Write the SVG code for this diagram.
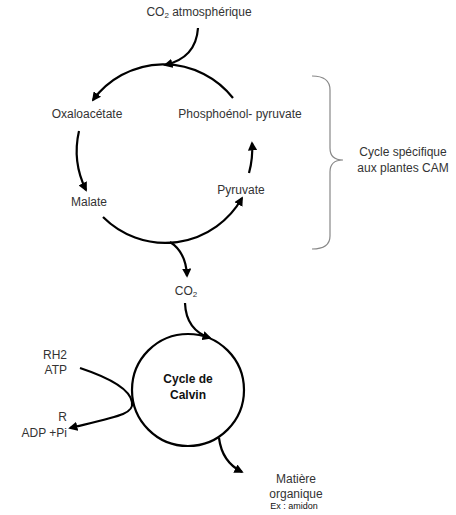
<svg xmlns="http://www.w3.org/2000/svg" width="456" height="515" viewBox="0 0 456 515">
<style>
text{font-family:"Liberation Sans",Arial,sans-serif;font-size:12px;fill:#333}
.b{font-weight:bold;fill:#111}
.s{font-size:9px;fill:#111}
.c{fill:none;stroke:#000;stroke-width:2.2}
</style>
<defs>
<marker id="ah" viewBox="0 0 10 10" refX="8" refY="5" markerWidth="4.2" markerHeight="4.2" orient="auto" markerUnits="strokeWidth">
<path d="M0,0 L10,5 L0,10 Z" fill="#000"/>
</marker>
</defs>
<rect width="456" height="515" fill="#fff"/>
<g id="connectors">
<path class="c" d="M198 28 Q196 58 165 65" marker-end="url(#ah)"/>
<path class="c" d="M233 98 A88 88 0 0 0 93 100" marker-end="url(#ah)"/>
<path class="c" d="M79 131 A88 88 0 0 0 86 190" marker-end="url(#ah)"/>
<path class="c" d="M103 217 A88 88 0 0 0 242 198" marker-end="url(#ah)"/>
<path class="c" d="M249 173 A88 88 0 0 0 252 143" marker-end="url(#ah)"/>
<path class="c" d="M170 242 Q186 252 187 276" marker-end="url(#ah)"/>
<path class="c" d="M185 303 Q186 330 210 338" marker-end="url(#ah)"/>
<path class="c" d="M80 368 C110 378 130 390 132 402 C134 414 120 416 70 428" marker-end="url(#ah)"/>
<path class="c" d="M219 438 Q222 462 242 472" marker-end="url(#ah)"/>
<path d="M312 76 Q330 76 330 90 L330 148 Q330 160 343 160 Q330 160 330 172 L330 236 Q330 249 312 249" fill="none" stroke="#888" stroke-width="1.2"/>
</g>
<g id="co2-atm"><text x="199" y="16" text-anchor="middle">CO<tspan font-size="8" dy="2">2</tspan><tspan dy="-2"> atmosphérique</tspan></text></g>
<g id="oxaloacetate"><text x="87" y="118" text-anchor="middle">Oxaloacétate</text></g>
<g id="pep"><text x="240" y="118" text-anchor="middle">Phosphoénol- pyruvate</text></g>
<g id="malate"><text x="89" y="206" text-anchor="middle">Malate</text></g>
<g id="pyruvate"><text x="241" y="194" text-anchor="middle">Pyruvate</text></g>
<g id="cam-label"><text x="403" y="156" text-anchor="middle">Cycle spécifique</text><text x="403" y="172" text-anchor="middle">aux plantes CAM</text></g>
<g id="co2"><text x="186" y="295" text-anchor="middle">CO<tspan font-size="8" dy="2">2</tspan></text></g>
<g id="calvin">
<circle cx="188" cy="390" r="56" fill="none" stroke="#000" stroke-width="2.2"/>
<text class="b" x="188" y="383" text-anchor="middle">Cycle de</text>
<text class="b" x="188" y="399" text-anchor="middle">Calvin</text>
</g>
<g id="rh2-atp"><text x="67" y="359" text-anchor="end">RH2</text><text x="67" y="374" text-anchor="end">ATP</text></g>
<g id="r-adp"><text x="67" y="421" text-anchor="end">R</text><text x="67" y="437" text-anchor="end">ADP +Pi</text></g>
<g id="matiere">
<text x="296" y="483" text-anchor="middle">Matière</text>
<text x="296" y="498" text-anchor="middle">organique</text>
<text class="s" x="294" y="509" text-anchor="middle">Ex : amidon</text>
</g>
</svg>
